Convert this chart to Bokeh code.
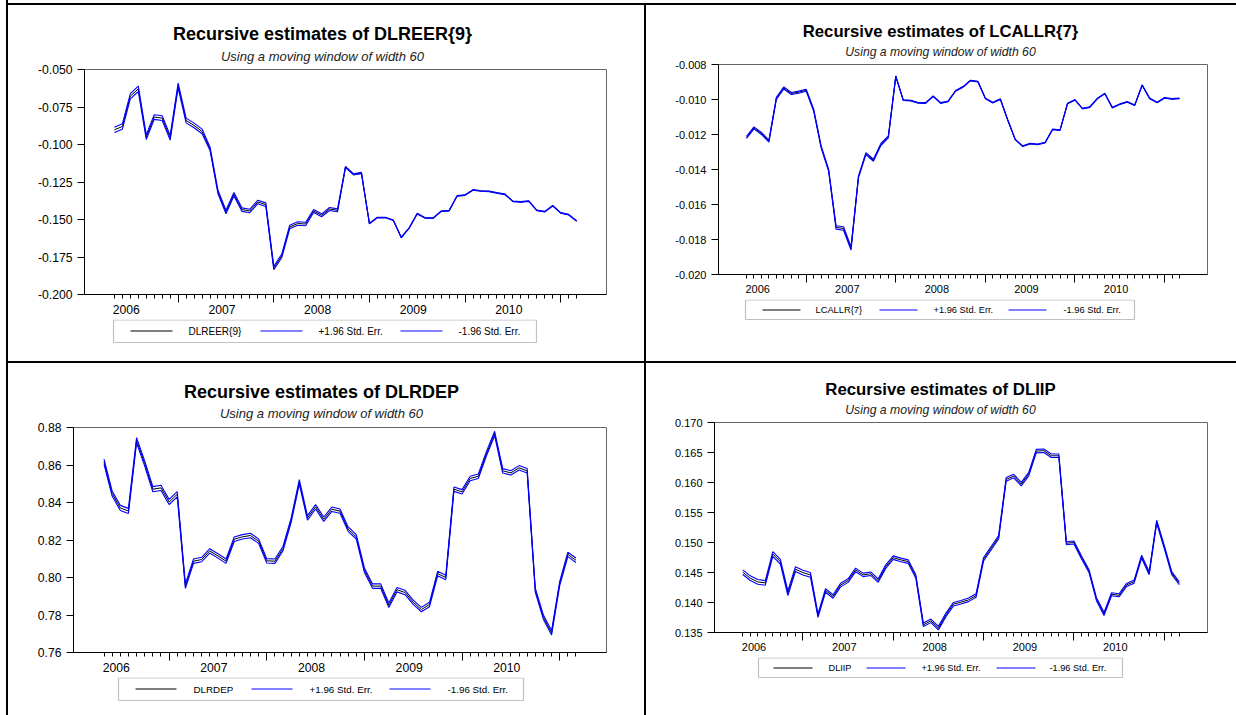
import numpy as np
import pandas as pd
from bokeh.plotting import figure
from bokeh.models import (ColumnDataSource, Range1d, LinearAxis, FixedTicker,
                          Label, BoxAnnotation, Spacer)
from bokeh.layouts import row, column
from bokeh.embed import file_html
from bokeh.resources import INLINE
from bokeh.core.validation import silence
from bokeh.core.validation.warnings import MISSING_RENDERERS

# Monthly sample of the rolling-window estimates: May 2006 - March 2011
months = pd.period_range("2006-05", "2011-03", freq="M")
years = ["2006", "2007", "2008", "2009", "2010"]

# ---- DLREER{9} ----
dlreer = [-0.0902, -0.0880, -0.0678, -0.0629, -0.0951, -0.0817, -0.0824, -0.0955,
          -0.0607, -0.0840, -0.0873, -0.0913, -0.1028, -0.1317, -0.1450, -0.1332,
          -0.1434, -0.1443, -0.1383, -0.1401, -0.1823, -0.1743, -0.1550, -0.1527,
          -0.1530, -0.1443, -0.1472, -0.1430, -0.1439, -0.1150, -0.1199, -0.1190,
          -0.1527, -0.1487, -0.1487, -0.1505, -0.1620, -0.1556, -0.1461, -0.1490,
          -0.1491, -0.1445, -0.1441, -0.1343, -0.1337, -0.1303, -0.1310, -0.1312,
          -0.1323, -0.1332, -0.1379, -0.1383, -0.1377, -0.1439, -0.1448, -0.1408,
          -0.1456, -0.1468, -0.1510]
dlreer_se = [0.0009, 0.0009, 0.0009, 0.0009, 0.0008, 0.0008, 0.0008, 0.0008,
             0.0008, 0.0008, 0.0008, 0.0008, 0.0006, 0.0006, 0.0006, 0.0006,
             0.0006, 0.0006, 0.0006, 0.0006, 0.0006, 0.0006, 0.0006, 0.0006,
             0.0006, 0.0005, 0.0005, 0.0005, 0.0005, 0.0002, 0.0002, 0.0002,
             0.0001, 0.0001, 0.0001, 0.0001, 0.0001, 0.0001, 0.0001, 0.0001,
             0.0001, 0.0001, 0.0001, 0.0001, 0.0001, 0.0001, 0.0001, 0.0001,
             0.0001, 0.0001, 0.0001, 0.0001, 0.0001, 0.0001, 0.0001, 0.0001,
             0.0001, 0.0001, 0.0001]
dlreer_yticks = [-0.200, -0.175, -0.150, -0.125, -0.100, -0.075, -0.050]
dlreer_ylabels = ["-0.200", "-0.175", "-0.150", "-0.125", "-0.100", "-0.075", "-0.050"]

# ---- LCALLR{7} ----
lcallr = [-0.01217, -0.01162, -0.01194, -0.01238, -0.00994, -0.00934, -0.00966, -0.00958,
          -0.00947, -0.01061, -0.01271, -0.01404, -0.01731, -0.01737, -0.01851, -0.01442,
          -0.01309, -0.01347, -0.01257, -0.01214, -0.00867, -0.01004, -0.01006, -0.01019,
          -0.01020, -0.00981, -0.01020, -0.01011, -0.00951, -0.00928, -0.00892, -0.00898,
          -0.00994, -0.01018, -0.00998, -0.01118, -0.01229, -0.01267, -0.01252, -0.01257,
          -0.01246, -0.01171, -0.01175, -0.01023, -0.01002, -0.01052, -0.01043, -0.00994,
          -0.00966, -0.01046, -0.01027, -0.01014, -0.01033, -0.00918, -0.00994, -0.01017,
          -0.00991, -0.00997, -0.00994]
lcallr_se = [0.00003, 0.00003, 0.00003, 0.00003, 0.00003, 0.00003, 0.00003, 0.00003,
             0.00003, 0.00003, 0.00003, 0.00003, 0.00005, 0.00005, 0.00005, 0.00003,
             0.00003, 0.00003, 0.00003, 0.00003, 0.00001, 0.00001, 0.00001, 0.00001,
             0.00001, 0.00001, 0.00001, 0.00001, 0.00001, 0.00001, 0.00001, 0.00001,
             0.00001, 0.00001, 0.00001, 0.00001, 0.00001, 0.00001, 0.00001, 0.00001,
             0.00001, 0.00001, 0.00001, 0.00001, 0.00001, 0.00001, 0.00001, 0.00001,
             0.00001, 0.00001, 0.00001, 0.00001, 0.00001, 0.00001, 0.00001, 0.00001,
             0.00001, 0.00001, 0.00001]
lcallr_yticks = [-0.020, -0.018, -0.016, -0.014, -0.012, -0.010, -0.008]
lcallr_ylabels = ["-0.020", "-0.018", "-0.016", "-0.014", "-0.012", "-0.010", "-0.008"]

# ---- DLRDEP ----
dlrdep = [0.8617, 0.8448, 0.8371, 0.8355, 0.8732, 0.8608, 0.8471, 0.8478,
          0.8403, 0.8444, 0.7954, 0.8087, 0.8096, 0.8142, 0.8115, 0.8087,
          0.8204, 0.8217, 0.8224, 0.8194, 0.8089, 0.8087, 0.8155, 0.8306,
          0.8510, 0.8318, 0.8377, 0.8311, 0.8364, 0.8354, 0.8258, 0.8217,
          0.8039, 0.7954, 0.7954, 0.7852, 0.7935, 0.7920, 0.7868, 0.7829,
          0.7856, 0.8021, 0.8000, 0.8471, 0.8457, 0.8528, 0.8540, 0.8661,
          0.8768, 0.8569, 0.8558, 0.8585, 0.8569, 0.7932, 0.7788, 0.7705,
          0.7968, 0.8123, 0.8092]
dlrdep_se = [0.0007, 0.0007, 0.0007, 0.0007, 0.0007, 0.0007, 0.0007, 0.0007,
             0.0007, 0.0007, 0.0006, 0.0006, 0.0006, 0.0006, 0.0006, 0.0006,
             0.0006, 0.0006, 0.0006, 0.0006, 0.0006, 0.0006, 0.0006, 0.0006,
             0.0006, 0.0006, 0.0006, 0.0006, 0.0006, 0.0006, 0.0006, 0.0006,
             0.0006, 0.0006, 0.0006, 0.0006, 0.0006, 0.0006, 0.0006, 0.0006,
             0.0006, 0.0006, 0.0006, 0.0006, 0.0006, 0.0006, 0.0006, 0.0006,
             0.0006, 0.0006, 0.0006, 0.0006, 0.0006, 0.0006, 0.0006, 0.0006,
             0.0006, 0.0006, 0.0006]
dlrdep_yticks = [0.76, 0.78, 0.80, 0.82, 0.84, 0.86, 0.88]
dlrdep_ylabels = ["0.76", "0.78", "0.80", "0.82", "0.84", "0.86", "0.88"]

# ---- DLIIP ----
dliip = [0.14505, 0.14405, 0.14343, 0.14327, 0.14809, 0.14681, 0.14155, 0.14555,
         0.14498, 0.14460, 0.13780, 0.14200, 0.14100, 0.14290, 0.14365, 0.14543,
         0.14460, 0.14480, 0.14365, 0.14598, 0.14748, 0.14710, 0.14681, 0.14432,
         0.13628, 0.13694, 0.13573, 0.13794, 0.13972, 0.14005, 0.14044, 0.14116,
         0.14721, 0.14904, 0.15087, 0.16052, 0.16107, 0.15974, 0.16140, 0.16523,
         0.16530, 0.16445, 0.16445, 0.14987, 0.15000, 0.14754, 0.14526, 0.14055,
         0.13810, 0.14138, 0.14120, 0.14293, 0.14348, 0.14764, 0.14488, 0.15346,
         0.14930, 0.14488, 0.14321]
dliip_se = [0.0002, 0.0002, 0.0002, 0.0002, 0.0002, 0.0002, 0.0002, 0.0002,
            0.0002, 0.0002, 0.00015, 0.00015, 0.00015, 0.00015, 0.00015, 0.00015,
            0.00015, 0.00015, 0.00015, 0.00015, 0.00015, 0.00015, 0.00015, 0.00015,
            0.00015, 0.00015, 0.00015, 0.00015, 0.00015, 0.00015, 0.00015, 0.00015,
            0.00015, 0.00015, 0.00015, 0.00015, 0.00015, 0.00015, 0.00015, 0.00015,
            0.00015, 0.00015, 0.00015, 0.00013, 0.00013, 0.00013, 0.00013, 0.00013,
            0.00013, 0.00013, 0.00013, 0.00013, 0.00013, 0.00013, 0.00013, 0.00013,
            0.00013, 0.00013, 0.00013]
dliip_yticks = [0.135, 0.140, 0.145, 0.150, 0.155, 0.160, 0.165, 0.170]
dliip_ylabels = ["0.135", "0.140", "0.145", "0.150", "0.155", "0.160", "0.165", "0.170"]

SUBTITLE = "Using a moving window of width 60"
BAND_LABELS = ["+1.96 Std. Err.", "-1.96 Std. Err."]
FONT = "Liberation Sans"
BLUE = "#0000ff"

# header and legend strips carry only annotations
silence(MISSING_RENDERERS, True)

x = np.arange(len(months))
start = months[0]
jan_ticks = [float(i) for i, m in enumerate(months) if m.month == 1]
# each year label sits under the middle of its twelve months
year_ticks = [float((pd.Period(f"{y}-01", freq="M") - start).n + 5.5) for y in years]

TOP_GAP = 5      # room above the frame so the top tick label is not cut
BOTTOM_GAP = 25  # room under the frame for month ticks and year labels


def strip(w, h, left, right):
    """Canvas for titles or a legend; its frame lines up with the plot frame."""
    s = figure(width=w, height=h, x_range=Range1d(0, 1), y_range=Range1d(0, 1),
               x_axis_type=None, y_axis_type=None,
               toolbar_location=None, output_backend="svg", min_border=0,
               min_border_left=left, min_border_right=right,
               min_border_top=0, min_border_bottom=0)
    s.outline_line_color = None
    s.background_fill_color = "white"
    s.border_fill_color = "white"
    return s


def panel(name, est, se, yticks, ylabels, cell, frame, title_pos, sub_pos,
          title_size, sub_size, tick_size, leg_box, leg_lines, leg_len,
          leg_text_x, leg_y, leg_size, year_standoff):
    cx0, cy0, cw, ch = cell
    fl, ft, fr, fb = frame            # frame edges in page pixels
    border_l = fl - cx0
    border_r = cx0 + cw - fr
    head_h = ft - TOP_GAP - cy0
    main_h = TOP_GAP + (fb - ft) + BOTTOM_GAP
    foot_h = cy0 + ch - (fb + BOTTOM_GAP)

    est = np.asarray(est)
    se = np.asarray(se)
    src = ColumnDataSource(dict(x=x, est=est, up=est + 1.96 * se, lo=est - 1.96 * se))

    p = figure(width=cw, height=main_h,
               x_range=Range1d(-3.75, 61.75),
               y_range=Range1d(yticks[0], yticks[-1]),
               x_axis_type=None, y_axis_type=None,
               toolbar_location=None, output_backend="svg", min_border=0,
               min_border_left=border_l, min_border_right=border_r,
               min_border_top=TOP_GAP, min_border_bottom=BOTTOM_GAP)
    p.outline_line_color = "#666666"
    p.outline_line_width = 1
    p.background_fill_color = "white"
    p.border_fill_color = "white"

    # month ticks (long ones at January) along the bottom edge
    ax_ticks = LinearAxis(ticker=FixedTicker(ticks=jan_ticks, minor_ticks=[float(v) for v in x]),
                          major_tick_out=8, major_tick_in=0,
                          minor_tick_out=4, minor_tick_in=0,
                          major_label_overrides={t: "" for t in jan_ticks},
                          major_label_text_font_size="1px", major_label_standoff=0,
                          axis_line_color="black", major_tick_line_color="black",
                          minor_tick_line_color="black")
    # year labels centred under each calendar year
    ax_years = LinearAxis(ticker=FixedTicker(ticks=year_ticks, minor_ticks=[]),
                          major_tick_out=0, major_tick_in=0,
                          minor_tick_out=0, minor_tick_in=0,
                          axis_line_color=None, major_tick_line_color=None,
                          minor_tick_line_color=None,
                          major_label_overrides=dict(zip(year_ticks, years)),
                          major_label_standoff=year_standoff,
                          major_label_text_font=FONT,
                          major_label_text_font_size=tick_size,
                          major_label_text_color="black")
    p.add_layout(ax_ticks, "below")
    p.add_layout(ax_years, "below")

    ay = LinearAxis(ticker=FixedTicker(ticks=yticks, minor_ticks=[]),
                    major_tick_out=7, major_tick_in=0,
                    minor_tick_out=0, minor_tick_in=0,
                    major_label_overrides=dict(zip(yticks, ylabels)),
                    major_label_standoff=5,
                    major_label_text_font=FONT,
                    major_label_text_font_size=tick_size,
                    major_label_text_color="black",
                    axis_line_color="black", major_tick_line_color="black")
    p.add_layout(ay, "left")

    p.line("x", "est", source=src, line_color="black", line_width=1)
    p.line("x", "up", source=src, line_color=BLUE, line_width=1.1)
    p.line("x", "lo", source=src, line_color=BLUE, line_width=1.1)

    # ---- title strip ----
    head = strip(cw, head_h, border_l, border_r)
    head_bottom = cy0 + head_h
    head.add_layout(Label(x=title_pos[0] - fl, y=head_bottom - title_pos[1],
                          x_units="screen", y_units="screen",
                          text=f"Recursive estimates of {name}", text_align="center",
                          text_baseline="middle", text_font=FONT, text_font_style="bold",
                          text_font_size=title_size, text_color="black"))
    head.add_layout(Label(x=sub_pos[0] - fl, y=head_bottom - sub_pos[1],
                          x_units="screen", y_units="screen",
                          text=SUBTITLE, text_align="center",
                          text_baseline="middle", text_font=FONT, text_font_style="italic",
                          text_font_size=sub_size, text_color="#222222"))

    # ---- legend strip ----
    foot = strip(cw, foot_h, border_l, border_r)
    foot_bottom = cy0 + ch

    def fx(v):
        return v - fl

    def fy(v):
        return foot_bottom - v

    bl, bt, br, bb = leg_box
    foot.add_layout(BoxAnnotation(left=fx(bl), right=fx(br), top=fy(bt), bottom=fy(bb),
                                  left_units="screen", right_units="screen",
                                  top_units="screen", bottom_units="screen",
                                  fill_color=None, fill_alpha=0,
                                  line_color="#333333", line_width=1.2))
    names = [name] + BAND_LABELS
    colors = ["black", BLUE, BLUE]
    for lx, tx, lab, col in zip(leg_lines, leg_text_x, names, colors):
        foot.add_layout(BoxAnnotation(left=fx(lx), right=fx(lx + leg_len),
                                      top=fy(leg_y - 0.5), bottom=fy(leg_y + 0.5),
                                      left_units="screen", right_units="screen",
                                      top_units="screen", bottom_units="screen",
                                      fill_color=col, fill_alpha=1, line_color=None))
        foot.add_layout(Label(x=fx(tx), y=fy(leg_y), x_units="screen", y_units="screen",
                              text=lab, text_align="left", text_baseline="middle",
                              text_font=FONT, text_font_size=leg_size, text_color="black"))
    return column(head, p, foot)


c1 = panel("DLREER{9}", dlreer, dlreer_se, dlreer_yticks, dlreer_ylabels,
           cell=(8, 5, 636, 356), frame=(84, 69, 606, 294),
           title_pos=(322, 33), sub_pos=(322, 56),
           title_size="18px", sub_size="13px", tick_size="12.2px",
           leg_box=(113, 319.5, 536, 342), leg_lines=[130, 260, 400], leg_len=42,
           leg_text_x=[188, 318, 458], leg_y=330.5, leg_size="10px", year_standoff=2)
c2 = panel("LCALLR{7}", lcallr, lcallr_se, lcallr_yticks, lcallr_ylabels,
           cell=(646, 5, 590, 356), frame=(718, 64, 1207, 274),
           title_pos=(940, 30.5), sub_pos=(940, 51.3),
           title_size="16.7px", sub_size="12.2px", tick_size="11px",
           leg_box=(745, 299.5, 1134, 319), leg_lines=[762, 879, 1008], leg_len=38,
           leg_text_x=[815, 933, 1063], leg_y=309.5, leg_size="9.3px", year_standoff=2)
c3 = panel("DLRDEP", dlrdep, dlrdep_se, dlrdep_yticks, dlrdep_ylabels,
           cell=(8, 363, 636, 352), frame=(73, 427, 606, 652),
           title_pos=(321, 391), sub_pos=(321, 413),
           title_size="18px", sub_size="13px", tick_size="12.2px",
           leg_box=(118, 677.5, 523, 700), leg_lines=[135, 251, 389], leg_len=41,
           leg_text_x=[193, 309, 447], leg_y=688.5, leg_size="9.8px", year_standoff=2)
c4 = panel("DLIIP", dliip, dliip_se, dliip_yticks, dliip_ylabels,
           cell=(646, 363, 590, 352), frame=(714, 422, 1207, 632),
           title_pos=(940, 389), sub_pos=(940, 409),
           title_size="16.8px", sub_size="12.2px", tick_size="11px",
           leg_box=(758, 657.5, 1122, 677), leg_lines=[773, 866, 996], leg_len=39,
           leg_text_x=[828, 921, 1049], leg_y=667.5, leg_size="9.2px", year_standoff=2)


def rule(w, h):
    return Spacer(width=w, height=h, styles={"background-color": "black"})


page = row(
    Spacer(width=6, height=715),
    rule(2, 715),
    column(
        Spacer(width=1228, height=3),
        rule(1228, 2),
        row(c1, rule(2, 356), c2),
        rule(1228, 2),
        row(c3, rule(2, 352), c4),
    ),
)

open("out.html", "w").write(file_html(page, INLINE))
